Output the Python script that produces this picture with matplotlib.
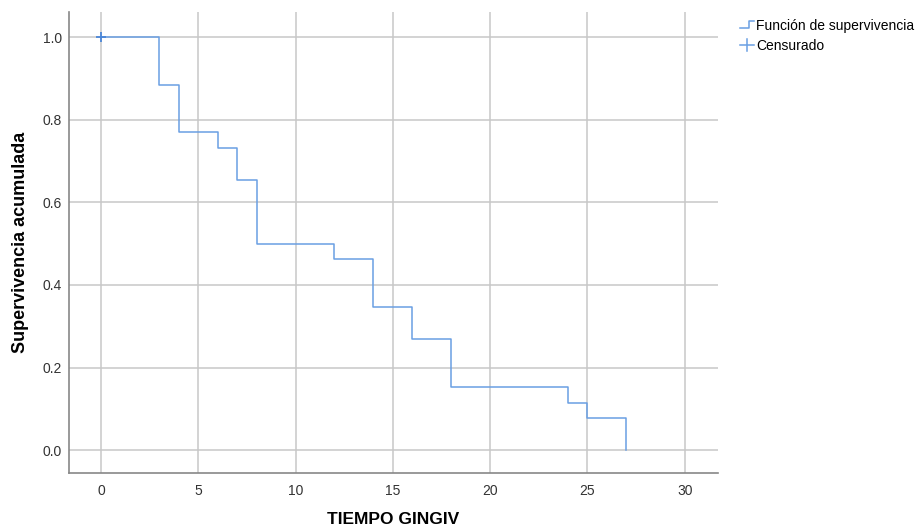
import matplotlib.pyplot as plt
from matplotlib.legend_handler import HandlerBase
from matplotlib.lines import Line2D

plt.rcParams["font.family"] = ["Liberation Sans", "DejaVu Sans"]

# Kaplan-Meier estimate
event_times = [0, 3, 4, 6, 7, 8, 12, 14, 16, 18, 24, 25, 27]
survival = [1.0, 0.885, 0.769, 0.731, 0.654, 0.500, 0.462, 0.346, 0.269,
            0.154, 0.115, 0.077, 0.0]
censored_t = [0]
censored_s = [1.0]

line_col = "#6a9fe3"
grid_col = "#c8c8c8"


class StepHandler(HandlerBase):
    def create_artists(self, legend, orig, xd, yd, w, h, fontsize, trans):
        xs = [xd, xd + w * 0.65, xd + w * 0.65, xd + w]
        ys = [yd + h * 0.15, yd + h * 0.15, yd + h * 0.95, yd + h * 0.95]
        return [Line2D(xs, ys, color=line_col, lw=1.1, transform=trans)]


class CensorHandler(HandlerBase):
    def create_artists(self, legend, orig, xd, yd, w, h, fontsize, trans):
        xm = xd + w * 0.5
        hl = Line2D([xd, xd + w], [yd + h * 0.5] * 2, color=line_col,
                    lw=1.1, transform=trans)
        vl = Line2D([xm, xm], [yd - h * 0.1, yd + h * 1.1], color=line_col,
                    lw=1.1, transform=trans)
        return [hl, vl]


fig = plt.figure(figsize=(9.18, 5.29), dpi=100)
ax = fig.add_axes([0.0752, 0.1059, 0.7068, 0.871])

ax.step(event_times, survival, where="post", color=line_col, lw=1.1,
        label="Función de supervivencia")
ax.plot(censored_t, censored_s, "+", color="#4a86d8", ms=7, mew=1.3,
        label="Censurado")

ax.set_xlim(-1.64, 31.7)
ax.set_ylim(-0.055, 1.06)
ax.set_xticks([0, 5, 10, 15, 20, 25, 30])
ax.set_yticks([0.0, 0.2, 0.4, 0.6, 0.8, 1.0])
ax.set_yticklabels(["0.0", "0.2", "0.4", "0.6", "0.8", "1.0"])
ax.grid(True, color=grid_col, lw=1.1)
ax.set_axisbelow(True)
ax.tick_params(length=0, labelsize=10, colors="#333333")
ax.tick_params(axis="y", pad=5)
ax.tick_params(axis="x", pad=8)

for s in ["top", "right"]:
    ax.spines[s].set_visible(False)
for s in ["left", "bottom"]:
    ax.spines[s].set_color("#888888")
    ax.spines[s].set_linewidth(1.2)

ax.set_xlabel("TIEMPO GINGIV", fontsize=12.5, fontweight="bold", va="center")
ax.xaxis.set_label_coords(0.499, -0.1)
ax.set_ylabel("Supervivencia acumulada", fontsize=13, fontweight="bold",
              va="center")
ax.yaxis.set_label_coords(-0.0755, 0.5)

h, l = ax.get_legend_handles_labels()
fig.legend(h, l, loc="upper left", bbox_to_anchor=(0.7996, 0.975),
           frameon=False, fontsize=10, handlelength=1.05, handletextpad=0.12,
           labelspacing=0.45, borderaxespad=0,
           handler_map={h[0]: StepHandler(), h[1]: CensorHandler()})

fig.savefig("out.png", dpi=100)
